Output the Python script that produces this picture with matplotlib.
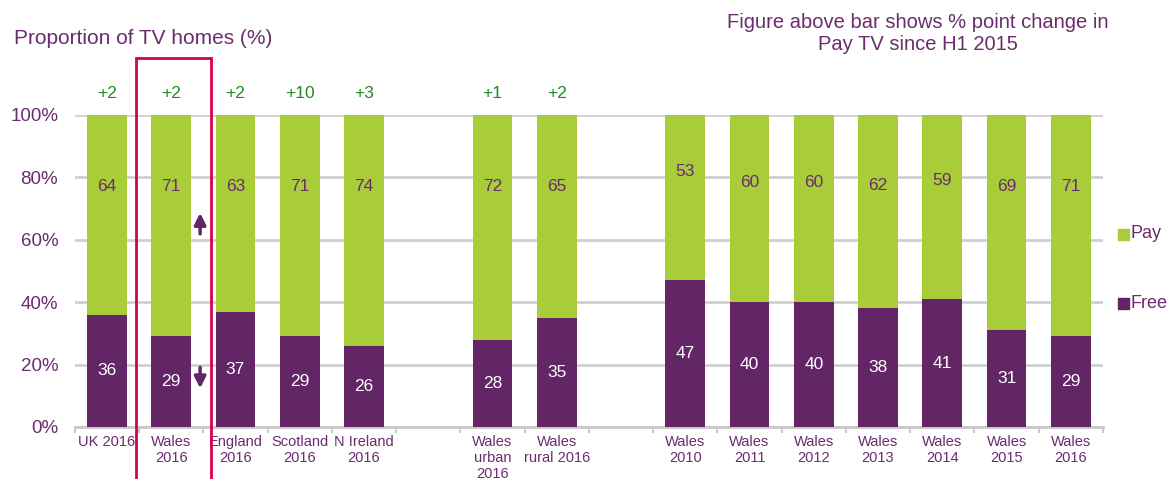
import numpy as np
import matplotlib.pyplot as plt
from matplotlib.patches import Rectangle

plt.switch_backend("agg")
plt.rcParams['font.family'] = ['Liberation Sans', 'DejaVu Sans']

# blank entries are the gaps between the three groups
labels = ["UK 2016", "Wales\n2016", "England\n2016", "Scotland\n2016", "N Ireland\n2016", "",
          "Wales\nurban\n2016", "Wales\nrural 2016", "",
          "Wales\n2010", "Wales\n2011", "Wales\n2012", "Wales\n2013", "Wales\n2014", "Wales\n2015", "Wales\n2016"]
free = [36, 29, 37, 29, 26, None, 28, 35, None, 47, 40, 40, 38, 41, 31, 29]
pay = [64, 71, 63, 71, 74, None, 72, 65, None, 53, 60, 60, 62, 59, 69, 71]
change = ["+2", "+2", "+2", "+10", "+3", "", "+1", "+2", "", "", "", "", "", "", "", ""]

green = "#a8cd38"
purple = "#622565"
txt = "#6b2c6e"

x = np.arange(len(labels))
fig = plt.figure(figsize=(11.69, 4.79), dpi=100)
ax = fig.add_axes([0.064, 0.1086, 0.8795, 0.6514])

for i in x:
    if free[i] is None:
        continue
    ax.bar(i, free[i], width=0.62, color=purple, zorder=3)
    ax.bar(i, pay[i], bottom=free[i], width=0.62, color=green, zorder=3)
    ax.text(i, free[i] / 2, str(free[i]), ha="center", va="center", color="white", fontsize=12.5, zorder=4)
    ypay = max(77, (free[i] + 117) / 2)
    ax.text(i, ypay, str(pay[i]), ha="center", va="center", color=txt, fontsize=12.5, zorder=4)
    if change[i]:
        ax.text(i, 107, change[i], ha="center", va="center", color="#1e8c1e", fontsize=12.5, clip_on=False)

ax.set_xlim(-0.5, len(labels) - 0.5)
ax.set_ylim(0, 100)
ax.set_yticks(range(0, 101, 20))
ax.set_yticklabels([f"{v}%" for v in range(0, 101, 20)], color=txt, fontsize=13.5)
ax.set_xticks(x)
ax.set_xticklabels(labels, color=txt, fontsize=10.5, linespacing=1.15)
ax.set_xticks(np.arange(-0.5, len(labels), 1), minor=True)
ax.tick_params(axis="x", which="major", length=0, pad=6)
ax.tick_params(axis="x", which="minor", length=4, color="#c8c8c8", width=1.5)
ax.tick_params(axis="y", length=0, pad=12)
ax.grid(axis="y", color="#d0d0d0", linewidth=2, zorder=0)
for s in ["top", "right", "left"]:
    ax.spines[s].set_visible(False)
ax.spines["bottom"].set_color("#c8c8c8")
ax.spines["bottom"].set_linewidth(2)

# highlight box around Wales 2016
ax.add_patch(Rectangle((1 - 0.545, -25), 1.165, 143.3, fill=False, edgecolor="#d7004f",
                       linewidth=2, clip_on=False, zorder=5))
ax.annotate("", xy=(1.45, 69.5), xytext=(1.45, 61),
            arrowprops=dict(arrowstyle="-|>", color=purple, lw=2.5, mutation_scale=17))
ax.annotate("", xy=(1.45, 11.5), xytext=(1.45, 20),
            arrowprops=dict(arrowstyle="-|>", color=purple, lw=2.5, mutation_scale=17))

# legend
fig.patches.append(Rectangle((1118 / 1169, 1 - 240 / 479), 11 / 1169, 11 / 479, color=green, transform=fig.transFigure))
fig.patches.append(Rectangle((1118 / 1169, 1 - 309 / 479), 11 / 1169, 11 / 479, color=purple, transform=fig.transFigure))
fig.text(1130 / 1169, 1 - 234 / 479, "Pay", color=txt, fontsize=13, va="center")
fig.text(1130 / 1169, 1 - 303 / 479, "Free", color=txt, fontsize=13, va="center")

fig.text(14 / 1169, 1 - 38 / 479, "Proportion of TV homes (%)", color=txt, fontsize=15, va="center")
fig.text(918 / 1169, 1 - 34 / 479, "Figure above bar shows % point change in\nPay TV since H1 2015",
         color=txt, fontsize=14.5, va="center", ha="center", linespacing=1.2)

plt.savefig("out.png", dpi=100)
